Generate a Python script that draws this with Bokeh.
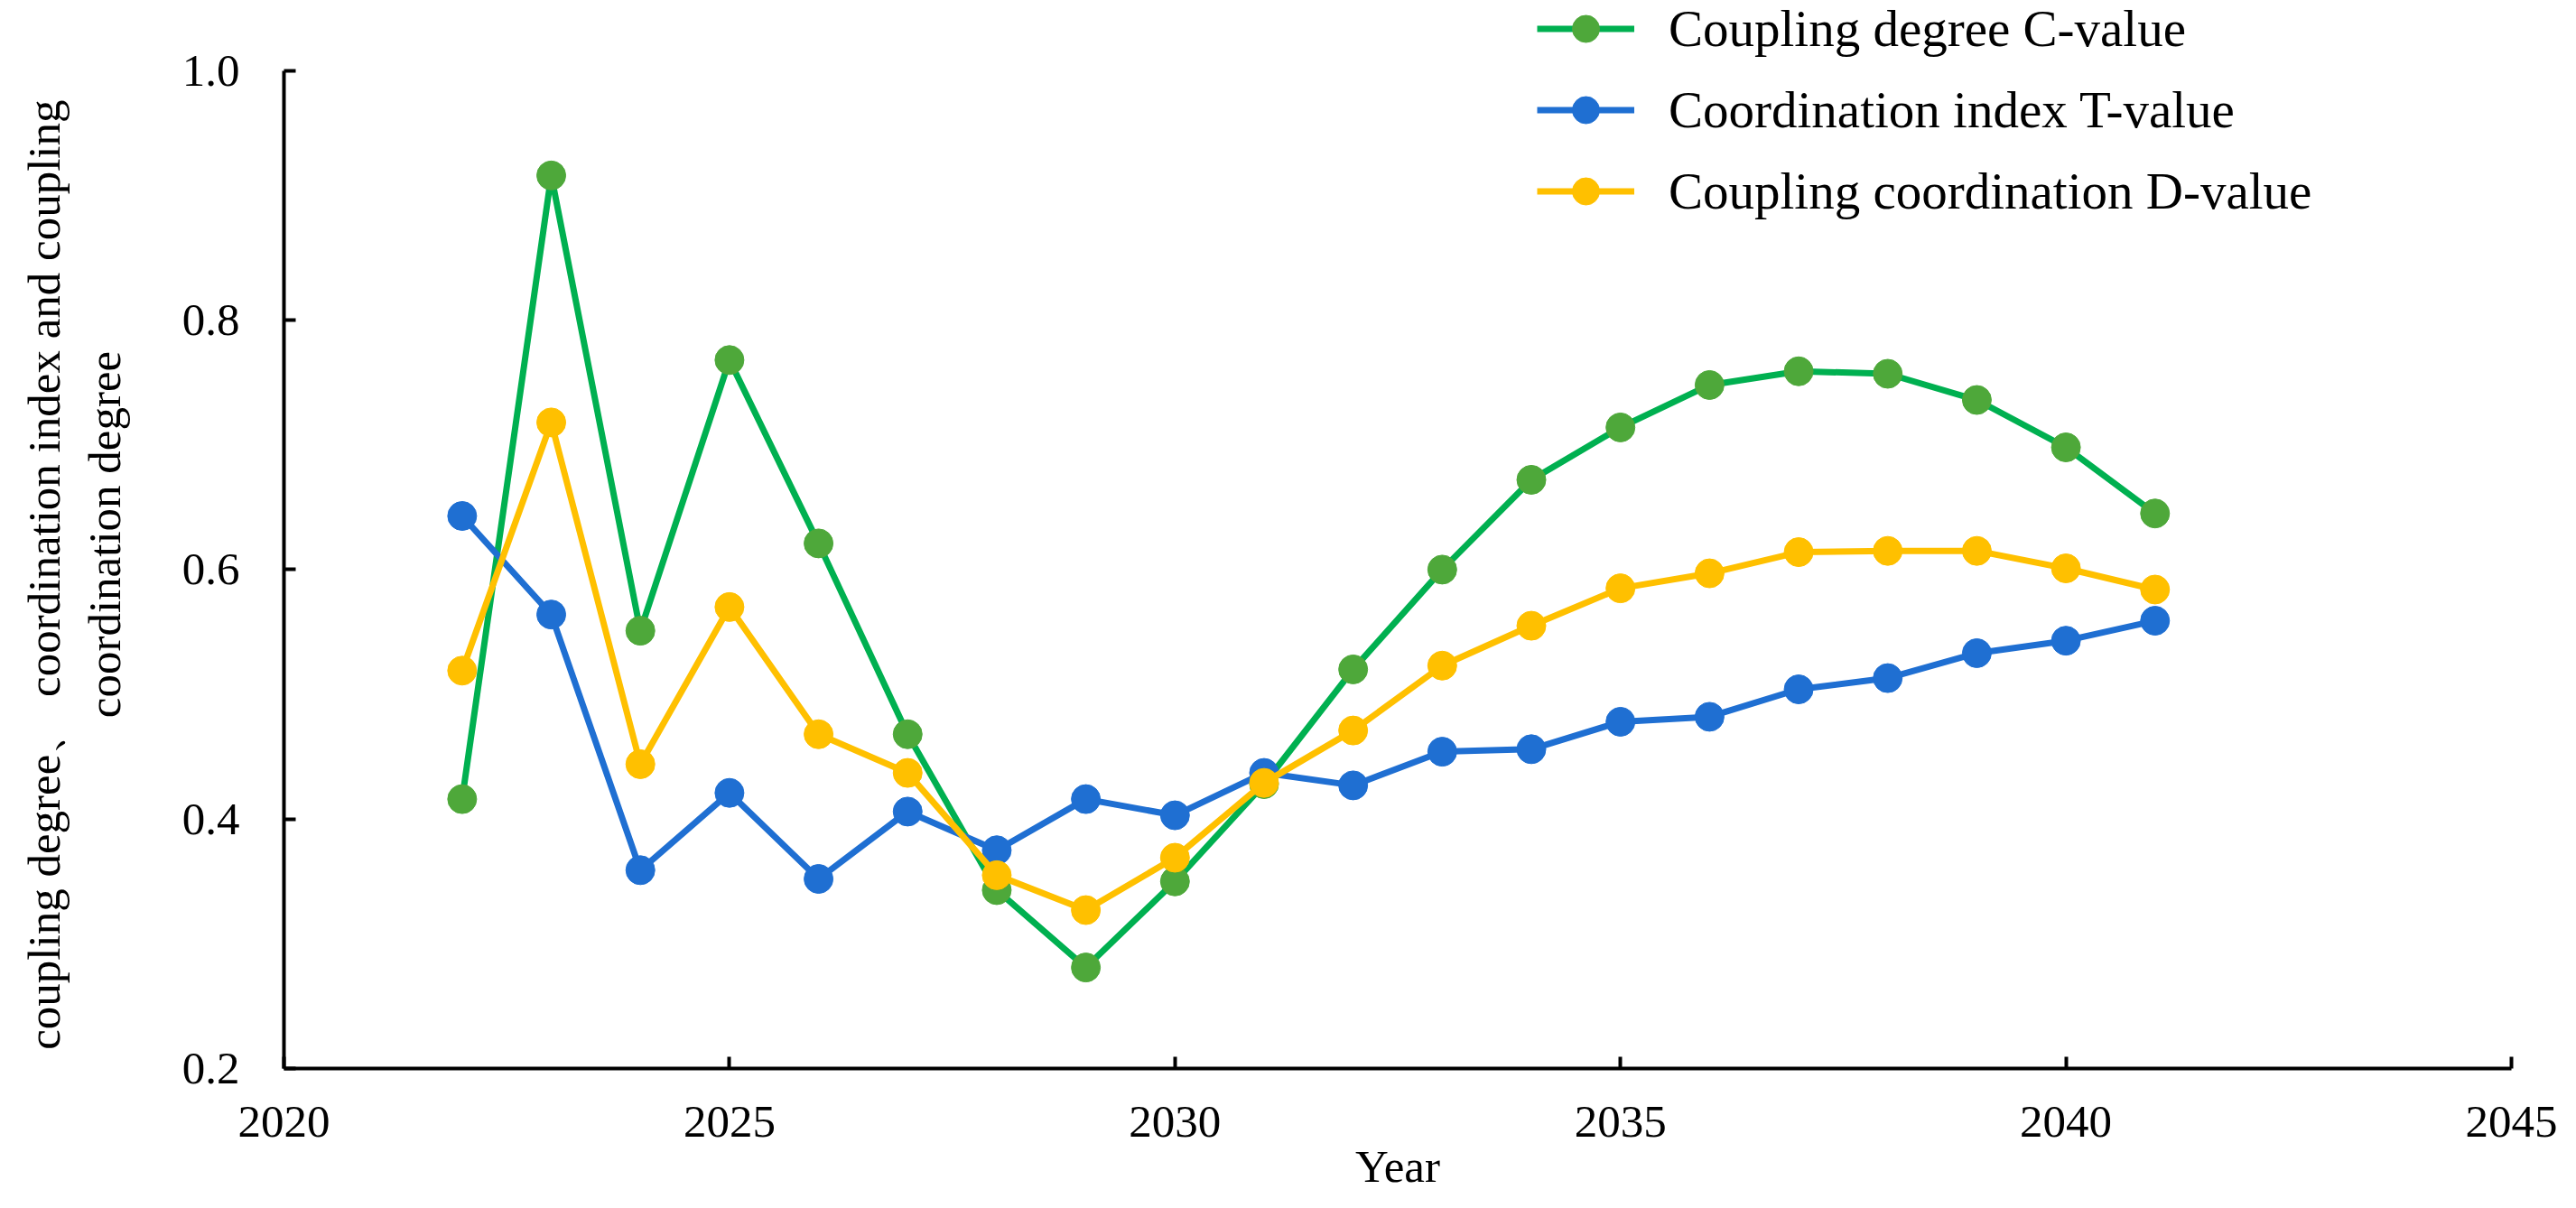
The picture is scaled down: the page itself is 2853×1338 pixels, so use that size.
from bokeh.plotting import figure
from bokeh.models import Range1d, Legend, LegendItem, FixedTicker
from bokeh.embed import file_html
from bokeh.resources import INLINE

years = list(range(2022, 2042))
c_values = [0.416, 0.916, 0.551, 0.768, 0.621, 0.468, 0.343, 0.281, 0.350, 0.428,
            0.520, 0.600, 0.672, 0.714, 0.748, 0.759, 0.757, 0.736, 0.698, 0.645]
t_values = [0.643, 0.564, 0.359, 0.421, 0.352, 0.406, 0.375, 0.416, 0.403, 0.437,
            0.427, 0.454, 0.456, 0.478, 0.482, 0.504, 0.513, 0.533, 0.543, 0.559]
d_values = [0.519, 0.718, 0.444, 0.570, 0.468, 0.437, 0.355, 0.327, 0.369, 0.429,
            0.471, 0.523, 0.555, 0.585, 0.597, 0.614, 0.615, 0.615, 0.601, 0.584]
series_labels = ["Coupling degree C-value", "Coordination index T-value",
                 "Coupling coordination D-value"]
x_ticks = [2020, 2025, 2030, 2035, 2040, 2045]
y_ticks = [0.2, 0.4, 0.6, 0.8, 1.0]

FONT = "Liberation Serif"

# frame spans the full canvas height above the x axis; the y axis line is
# bounded to 0.2..1.0 so the area above 1.0 holds the legend
Y_TOP = 1.0 + 78 * 0.8 / 1108

p = figure(width=2837, height=1322, output_backend="svg", toolbar_location=None,
           x_range=Range1d(2020, 2045), y_range=Range1d(0.2, Y_TOP),
           min_border_left=314, min_border_right=56, min_border_top=0,
           min_border_bottom=136)
p.outline_line_color = None
p.grid.visible = False
p.background_fill_color = "white"
p.border_fill_color = "white"

line_colors = ["#00B050", "#1F6FD2", "#FFC000"]
marker_colors = ["#4EA83A", "#1F6FD2", "#FFC000"]
items = []
for vals, lc, mc, lab in zip([c_values, t_values, d_values], line_colors,
                             marker_colors, series_labels):
    lr = p.line(years, vals, line_color=lc, line_width=7)
    sr = p.scatter(years, vals, size=32, fill_color=mc, line_color=mc)
    items.append(LegendItem(label=lab, renderers=[lr, sr]))

legend = Legend(items=items, location=(1388, 934), orientation="vertical",
                glyph_width=108, glyph_height=75, label_height=75,
                spacing=15, padding=0, margin=0, label_standoff=38,
                label_text_font=FONT, label_text_font_size="57px",
                label_text_color="black",
                border_line_color=None, background_fill_alpha=0)
p.add_layout(legend, "center")

for ax in (p.xaxis[0], p.yaxis[0]):
    ax.axis_line_width = 4
    ax.axis_line_color = "black"
    ax.major_tick_line_width = 4
    ax.major_tick_line_color = "black"
    ax.major_tick_in = 13
    ax.major_tick_out = 0
    ax.minor_tick_line_color = None
    ax.major_label_text_font = FONT
    ax.major_label_text_font_size = "51px"
    ax.major_label_text_color = "black"
    ax.axis_label_text_font = FONT
    ax.axis_label_text_font_size = "51px"
    ax.axis_label_text_font_style = "normal"
    ax.axis_label_text_color = "black"

p.yaxis[0].bounds = (0.2, 1.0)
p.xaxis[0].ticker = FixedTicker(ticks=x_ticks)
p.yaxis[0].ticker = FixedTicker(ticks=y_ticks)
p.yaxis[0].major_label_overrides = {v: f"{v:.1f}" for v in y_ticks}
p.xaxis[0].major_label_standoff = 42
p.yaxis[0].major_label_standoff = 49
p.xaxis[0].axis_label = "Year"
p.xaxis[0].axis_label_standoff = 2
# trailing spaces keep the rotated title centred on the 0.2-1.0 span
p.yaxis[0].axis_label = ("coupling degree\u3001 coordination index and coupling       \n"
                         "coordination degree")
p.yaxis[0].axis_label_standoff = 55

open("out.html", "w").write(file_html(p, INLINE))
